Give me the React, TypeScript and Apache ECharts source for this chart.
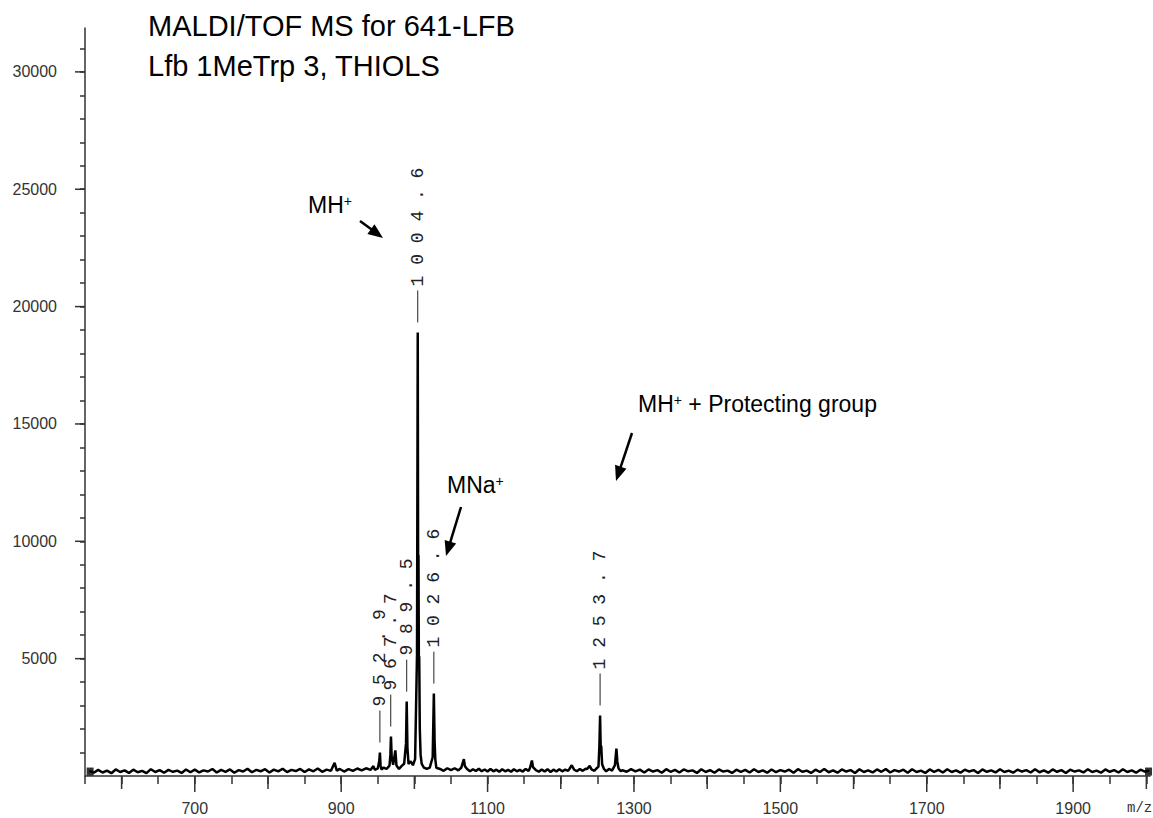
import React, { useEffect, useRef } from "react";
import * as echarts from "echarts";

const titleLine1 = "MALDI/TOF MS for 641-LFB";
const titleLine2 = "Lfb 1MeTrp 3, THIOLS";
const xLabelValues = [700, 900, 1100, 1300, 1500, 1700, 1900];
const xMidTickValues = [600, 800, 1000, 1200, 1400, 1600, 1800, 2000];
const yLabelValues = [5000, 10000, 15000, 20000, 25000, 30000];
const xMin = 550;
const xMax = 2005;
const yMax = 31870;

// baseline noise, left of the cluster
const baselineLeft: [number, number][] = [
  [556, 220], [562, 140], [568, 260], [574, 150], [580, 230], [586, 120], [592, 280], [598, 170],
  [604, 240], [610, 130], [616, 270], [622, 160], [628, 220], [634, 120], [640, 290], [646, 170],
  [652, 250], [658, 140], [664, 260], [670, 180], [676, 230], [682, 130], [688, 280], [694, 160],
  [700, 270], [706, 150], [712, 240], [718, 190], [724, 300], [730, 150], [736, 260], [742, 180],
  [748, 280], [754, 140], [760, 250], [766, 190], [772, 310], [778, 160], [784, 260], [790, 200],
  [796, 290], [802, 150], [808, 270], [814, 200], [820, 310], [826, 170], [832, 260], [838, 210],
  [844, 300], [850, 170], [856, 280], [862, 200], [868, 320], [874, 180], [880, 270], [886, 220],
  [891, 560], [894, 230], [898, 300], [904, 190], [910, 290], [916, 220], [922, 320], [928, 240],
  [934, 330], [940, 260],
];

// main cluster 940 - 1035
const clusterPoints: [number, number][] = [
  [944, 420], [946, 260], [950, 320], [952, 640], [952.9, 1000], [953.8, 450], [955, 280],
  [958, 360], [962, 300], [966, 440], [967.2, 900], [968, 1680], [969, 800], [971, 480],
  [974, 1090], [975.5, 450], [979, 300], [983, 440], [986, 520], [988.6, 1400], [989.5, 3170],
  [990.5, 1200], [992, 520], [995, 620], [998, 460], [1001, 720], [1003.6, 5200], [1004.6, 18900],
  [1005.1, 9000], [1005.6, 9400], [1006.1, 5000], [1006.6, 5100], [1007.4, 2000], [1008.5, 900],
  [1010, 520], [1013, 360], [1017, 300], [1021, 360], [1025, 800], [1026.6, 3510], [1027.6, 1500],
  [1028.6, 700], [1030, 350],
];

// 1035 - 1284, including the 1253.7 group
const middlePoints: [number, number][] = [
  [1035, 300], [1040, 220], [1045, 330], [1050, 250], [1055, 330], [1060, 240], [1064, 350],
  [1067.6, 720], [1069, 420], [1072, 300], [1076, 200], [1080, 290], [1084, 210], [1088, 310],
  [1092, 200], [1096, 280], [1100, 190], [1104, 300], [1108, 200], [1112, 270], [1116, 180],
  [1120, 290], [1124, 200], [1128, 260], [1132, 180], [1136, 290], [1140, 200], [1144, 260],
  [1148, 190], [1152, 300], [1156, 220], [1158, 350], [1160.6, 660], [1162, 380], [1166, 250],
  [1170, 180], [1174, 280], [1178, 190], [1182, 290], [1186, 170], [1190, 270], [1194, 190],
  [1198, 290], [1202, 200], [1206, 270], [1210, 220], [1212, 310], [1215, 460], [1218, 280],
  [1222, 200], [1226, 300], [1230, 220], [1234, 310], [1236, 300], [1239.5, 430], [1242, 280],
  [1246, 220], [1248, 300], [1251.5, 400], [1252.8, 1300], [1253.7, 2580], [1254.5, 1300],
  [1255.3, 1250], [1256.5, 500], [1259, 300], [1262, 200], [1266, 300], [1270, 230], [1274, 460],
  [1276, 1170], [1277.3, 600], [1279, 320], [1282, 200],
];

const baselineRight: [number, number][] = [
  [1284, 250], [1290, 180], [1296, 290], [1302, 200], [1308, 270], [1314, 150], [1320, 280],
  [1326, 190], [1332, 250], [1338, 140], [1344, 290], [1350, 180], [1356, 260], [1362, 150],
  [1368, 280], [1374, 200], [1380, 240], [1386, 130], [1392, 290], [1398, 170], [1404, 250],
  [1410, 140], [1416, 280], [1422, 190], [1428, 230], [1434, 130], [1440, 270], [1446, 180],
  [1452, 260], [1458, 150], [1464, 290], [1470, 170], [1476, 240], [1482, 140], [1488, 280],
  [1494, 160], [1500, 250], [1506, 190], [1512, 270], [1518, 140], [1524, 290], [1530, 180],
  [1536, 230], [1542, 130], [1548, 270], [1554, 170], [1560, 300], [1566, 160], [1572, 240],
  [1578, 140], [1584, 280], [1590, 190], [1596, 250], [1602, 130], [1608, 290], [1614, 170],
  [1620, 240], [1626, 150], [1632, 280], [1638, 180], [1644, 300], [1650, 150], [1656, 250],
  [1662, 190], [1668, 270], [1674, 140], [1680, 290], [1686, 170], [1692, 230], [1698, 130],
  [1704, 280], [1710, 180], [1716, 260], [1722, 150], [1728, 290], [1734, 170], [1740, 240],
  [1746, 140], [1752, 270], [1758, 190], [1764, 250], [1770, 130], [1776, 280], [1782, 180],
  [1788, 240], [1794, 150], [1800, 290], [1806, 170], [1812, 230], [1818, 140], [1824, 270],
  [1830, 190], [1836, 250], [1842, 150], [1848, 290], [1854, 160], [1860, 240], [1866, 140],
  [1872, 280], [1878, 180], [1884, 250], [1890, 130], [1896, 270], [1902, 190], [1908, 240],
  [1914, 150], [1920, 290], [1926, 170], [1932, 230], [1938, 140], [1944, 280], [1950, 180],
  [1956, 250], [1962, 150], [1968, 290], [1974, 170], [1980, 240], [1986, 140], [1992, 270],
  [1998, 190], [2004, 220],
];

const endMarkers: [number, number][] = [[557, 190], [2003, 190]];

// labelled peaks: m/z, intensity, label
const peakLabelMz = [952.9, 967.7, 989.5, 1004.6, 1026.6, 1253.7];
const peakLabelIntensity = [1000, 1680, 3170, 18900, 3510, 2580];
const peakLabelText = ["952.9", "967.7", "989.5", "1004.6", "1026.6", "1253.7"];

const spaced = (s: string) => s.split("").join(" ");

function arrow(x1: number, y1: number, x2: number, y2: number, head = 15, w = 12) {
  const dx = x2 - x1;
  const dy = y2 - y1;
  const L = Math.hypot(dx, dy);
  const ux = dx / L;
  const uy = dy / L;
  const bx = x2 - ux * head;
  const by = y2 - uy * head;
  const px = -uy;
  const py = ux;
  return [
    {
      type: "line",
      shape: { x1, y1, x2: bx + ux * 3, y2: by + uy * 3 },
      style: { stroke: "#000", lineWidth: 2.5 },
    },
    {
      type: "polygon",
      shape: {
        points: [
          [x2, y2],
          [bx + (px * w) / 2, by + (py * w) / 2],
          [bx - (px * w) / 2, by - (py * w) / 2],
        ],
      },
      style: { fill: "#000" },
    },
  ];
}

const sansFont = '"Liberation Sans", Arial, sans-serif';
const annRich = {
  a: { fontSize: 23, fontFamily: sansFont, fill: "#000", color: "#000" },
  b: { fontSize: 14, fontFamily: sansFont, fill: "#000", color: "#000", verticalAlign: "top" },
};

function tickSeries(values: number[], vertical: boolean, len: number) {
  return {
    type: "custom",
    data: values.map((v) => (vertical ? [v, 0] : [xMin, v])),
    clip: false,
    silent: true,
    z: 6,
    renderItem: (_params: any, api: any) => {
      const c = api.coord([api.value(0), api.value(1)]);
      return {
        type: "line",
        shape: vertical
          ? { x1: c[0], y1: c[1], x2: c[0], y2: c[1] + len }
          : { x1: c[0], y1: c[1], x2: c[0] - len, y2: c[1] },
        style: { stroke: "#333", lineWidth: 1.5 },
      };
    },
  };
}

export default function App() {
  const ref = useRef<HTMLDivElement>(null);
  useEffect(() => {
    document.body.style.margin = "0";
    if (!ref.current) return;
    const chart = echarts.init(ref.current, undefined, { renderer: "svg" });
    const spectrum = [...baselineLeft, ...clusterPoints, ...middlePoints, ...baselineRight].sort(
      (a, b) => a[0] - b[0]
    );
    const labelData = peakLabelMz.map((m, i) => [m, peakLabelIntensity[i]]);
    const axisFont = { color: "#333", fontSize: 16, fontFamily: sansFont };

    chart.setOption({
      animation: false,
      backgroundColor: "#fff",
      grid: { left: 85, right: 3, top: 28, bottom: 42, containLabel: false },
      xAxis: {
        type: "value",
        min: xMin,
        max: xMax,
        interval: 50,
        axisLine: { show: true, onZero: false, lineStyle: { color: "#333", width: 1.5 } },
        axisTick: { show: true, length: 8, lineStyle: { color: "#333", width: 1.5 } },
        axisLabel: {
          ...axisFont,
          margin: 24,
          showMaxLabel: false,
          formatter: (v: number) => (xLabelValues.includes(v) ? String(v) : ""),
        },
        splitLine: { show: false },
      },
      yAxis: {
        type: "value",
        min: 0,
        max: yMax,
        interval: 1000,
        axisLine: { show: true, onZero: false, lineStyle: { color: "#333", width: 1.5 } },
        axisTick: { show: true, length: 5, lineStyle: { color: "#333", width: 1.5 } },
        axisLabel: {
          ...axisFont,
          margin: 28,
          showMinLabel: false,
          showMaxLabel: false,
          formatter: (v: number) => (yLabelValues.includes(v) ? String(v) : ""),
        },
        splitLine: { show: false },
      },
      series: [
        {
          type: "line",
          data: spectrum,
          showSymbol: false,
          symbol: "none",
          lineStyle: { color: "#000", width: 2.5 },
          z: 3,
          silent: true,
        },
        {
          type: "scatter",
          data: endMarkers,
          symbol: "rect",
          symbolSize: [7, 8],
          itemStyle: { color: "#000" },
          z: 4,
          silent: true,
        },
        tickSeries(xMidTickValues, true, 13),
        tickSeries(xLabelValues, true, 16),
        tickSeries(yLabelValues, false, 10),
        {
          type: "custom",
          data: labelData,
          clip: false,
          silent: true,
          z: 5,
          renderItem: (params: any, api: any) => {
            const p = api.coord([api.value(0), api.value(1)]);
            const label = peakLabelText[params.dataIndex];
            return {
              type: "group",
              children: [
                {
                  type: "line",
                  shape: { x1: p[0], y1: p[1] - 10, x2: p[0], y2: p[1] - 42 },
                  style: { stroke: "#222", lineWidth: 1 },
                },
                {
                  type: "text",
                  x: p[0],
                  y: p[1] - 46,
                  rotation: Math.PI / 2,
                  style: {
                    text: spaced(label),
                    fill: "#222",
                    fontSize: 18,
                    fontFamily: '"Liberation Mono", "DejaVu Sans Mono", monospace',
                    align: "left",
                    verticalAlign: "middle",
                  },
                },
              ],
            };
          },
        },
      ],
      graphic: [
        {
          type: "text",
          left: 148,
          top: 11,
          style: { text: titleLine1, fontSize: 29, fontFamily: sansFont, fill: "#000" },
        },
        {
          type: "text",
          left: 148,
          top: 51,
          style: { text: titleLine2, fontSize: 29, fontFamily: sansFont, fill: "#000" },
        },
        {
          type: "text",
          x: 308,
          y: 205,
          style: { text: "{a|MH}{b|+}", rich: annRich, verticalAlign: "middle", align: "left" },
        },
        {
          type: "text",
          x: 447,
          y: 485,
          style: { text: "{a|MNa}{b|+}", rich: annRich, verticalAlign: "middle", align: "left" },
        },
        {
          type: "text",
          x: 638,
          y: 404,
          style: { text: "{a|MH}{b|+}{a| + Protecting group}", rich: annRich, verticalAlign: "middle", align: "left" },
        },
        ...arrow(360, 221, 383, 238),
        ...arrow(461, 507, 446, 556),
        ...arrow(632, 433, 616, 481),
        {
          type: "text",
          left: 1127,
          top: 801,
          style: { text: "m/z", fontSize: 14, fontFamily: '"Liberation Mono", monospace', fill: "#333" },
        },
      ],
    });
    return () => chart.dispose();
  }, []);
  return <div ref={ref} style={{ width: 1153, height: 818 }} />;
}
